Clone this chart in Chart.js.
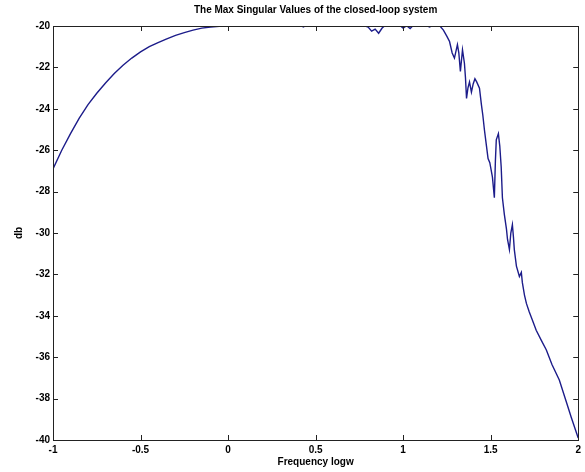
<!DOCTYPE html>
<html>
<head>
<meta charset="utf-8">
<script src="https://cdn.jsdelivr.net/npm/chart.js@4"></script>
<style>
html,body{margin:0;padding:0;background:#fff;}
#wrap{width:585px;height:472px;}
</style>
</head>
<body>
<div id="wrap"><canvas id="c" width="585" height="472"></canvas></div>
<script>
const chartTitle = "The Max Singular Values of the closed-loop system";
const xLabel = "Frequency logw";
const yLabel = "db";
const xTicks = [-1, -0.5, 0, 0.5, 1, 1.5, 2];
const yTicks = [-40, -38, -36, -34, -32, -30, -28, -26, -24, -22, -20];

const freq = [
  -1, -0.95, -0.9, -0.85, -0.8, -0.75, -0.7, -0.65, -0.6, -0.55, -0.5,
  -0.45, -0.4, -0.35, -0.3, -0.25, -0.2, -0.15, -0.1, -0.05, 0,
  0.05, 0.1, 0.2, 0.3, 0.4, 0.43, 0.46, 0.6, 0.75, 0.8, 0.82, 0.84, 0.86, 0.88, 0.9,
  0.97, 1.0, 1.02, 1.04, 1.06, 1.12, 1.15, 1.18, 1.21, 1.23, 1.25, 1.265, 1.28, 1.293,
  1.31, 1.318, 1.327, 1.339, 1.35, 1.356, 1.362, 1.37, 1.379, 1.39, 1.40, 1.41, 1.42,
  1.436, 1.447, 1.455, 1.464, 1.476, 1.485, 1.495, 1.51, 1.521, 1.527, 1.532, 1.544,
  1.552, 1.56, 1.567, 1.578, 1.59, 1.596, 1.607, 1.615, 1.624, 1.63, 1.635, 1.647,
  1.664, 1.675, 1.681, 1.693, 1.704, 1.72, 1.738, 1.76, 1.79, 1.818, 1.85, 1.892,
  1.93, 1.96, 2.0
];
const db = [
  -26.9, -26.0, -25.2, -24.45, -23.8, -23.25, -22.75, -22.3, -21.9, -21.55, -21.25,
  -21.0, -20.8, -20.62, -20.45, -20.32, -20.2, -20.1, -20.05, -20.02, -20.0,
  -19.95, -19.9, -19.85, -19.85, -19.9, -20.05, -19.9, -19.85, -19.9, -20.05, -20.25, -20.15, -20.35, -20.1, -19.95,
  -19.9, -20.1, -19.98, -20.12, -19.95, -19.9, -20.05, -19.95, -20.0, -20.2, -20.5, -20.75, -21.3, -21.55,
  -20.9, -21.3, -22.2, -21.15, -21.8, -22.5, -23.5, -23.0, -22.7, -23.2, -22.8, -22.55, -22.7,
  -23.0, -23.8, -24.3, -25.0, -25.8, -26.4, -26.6, -27.3, -28.3, -26.5, -25.5, -25.2,
  -25.8, -26.8, -28.3, -29.1, -29.8, -30.3, -30.8, -30.0, -29.6, -30.2, -30.8, -31.6,
  -32.1, -31.9, -32.4, -33.0, -33.4, -33.8, -34.2, -34.7, -35.2, -35.65, -36.35, -37.1,
  -38.1, -38.9, -39.9
];

const FONT = "'Liberation Sans', Arial, Helvetica, sans-serif";

const boxTicks = {
  id: 'boxTicks',
  afterDatasetsDraw(chart) {
    const {ctx, chartArea: {left, right, top, bottom}, scales: {x, y}} = chart;
    ctx.save();
    ctx.strokeStyle = '#222';
    ctx.lineWidth = 1;
    ctx.beginPath();
    const L = 5;
    xTicks.forEach(v => {
      const px = Math.round(x.getPixelForValue(v)) + 0.5;
      ctx.moveTo(px, bottom); ctx.lineTo(px, bottom - L);
      ctx.moveTo(px, top); ctx.lineTo(px, top + L);
    });
    yTicks.forEach(v => {
      const py = Math.round(y.getPixelForValue(v)) + 0.5;
      ctx.moveTo(left, py); ctx.lineTo(left + L, py);
      ctx.moveTo(right, py); ctx.lineTo(right - L, py);
    });
    ctx.stroke();
    ctx.strokeRect(Math.round(left) + 0.5, Math.round(top) + 0.5, Math.round(right - left), Math.round(bottom - top));
    ctx.restore();
  }
};

new Chart(document.getElementById('c'), {
  type: 'line',
  data: {
    datasets: [{
      data: freq.map((f, i) => ({x: f, y: db[i]})),
      borderColor: '#1c1c8a',
      borderWidth: 1.4,
      pointRadius: 0,
      tension: 0,
      fill: false,
      clip: 0
    }]
  },
  options: {
    responsive: false,
    animation: false,
    events: [],
    layout: {padding: 0},
    plugins: {legend: {display: false}, tooltip: {enabled: false}, title: {display: false}},
    scales: {
      x: {
        type: 'linear', position: 'bottom', min: -1, max: 2,
        afterBuildTicks: s => { s.ticks = xTicks.map(v => ({value: v})); },
        afterFit: s => { s.height = 32; },
        grid: {display: false, drawTicks: false},
        border: {display: false},
        ticks: {color: '#000', font: {family: FONT, size: 10, weight: 'bold'}, padding: 4, maxRotation: 0,
                callback: v => String(v)},
        title: {display: true, text: xLabel, color: '#000', font: {family: FONT, size: 10, weight: 'bold'}, padding: {top: 0, bottom: 4}}
      },
      x2: {
        type: 'linear', position: 'top', min: -1, max: 2,
        afterFit: s => { s.height = 26; },
        grid: {display: false, drawTicks: false},
        border: {display: false},
        ticks: {display: false},
        title: {display: true, text: chartTitle, color: '#000', font: {family: FONT, size: 10, weight: 'bold'}, padding: {top: 4, bottom: 0}}
      },
      y: {
        type: 'linear', position: 'left', min: -40, max: -20,
        afterBuildTicks: s => { s.ticks = yTicks.map(v => ({value: v})); },
        afterFit: s => { s.width = 53; },
        grid: {display: false, drawTicks: false},
        border: {display: false},
        ticks: {color: '#000', font: {family: FONT, size: 10, weight: 'bold'}, padding: 3},
        title: {display: true, text: yLabel, color: '#000', font: {family: FONT, size: 10, weight: 'bold'}, padding: {top: 13, bottom: 0}}
      },
      y2: {
        type: 'linear', position: 'right', min: -40, max: -20,
        afterFit: s => { s.width = 6; },
        grid: {display: false, drawTicks: false},
        border: {display: false},
        ticks: {display: false}
      }
    }
  },
  plugins: [boxTicks]
});
</script>
</body>
</html>
